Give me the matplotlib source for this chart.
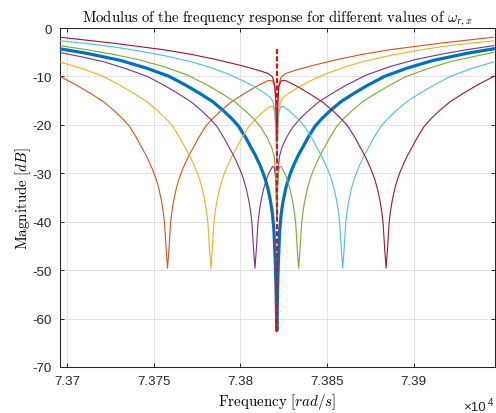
# Frequency response modulus for several values of omega_r,x (MATLAB-style figure)
import matplotlib
matplotlib.use("Agg")
import matplotlib.pyplot as plt

plt.rcParams["font.family"] = ["Liberation Sans", "DejaVu Sans"]
plt.rcParams["mathtext.fontset"] = "cm"
plt.rcParams["axes.unicode_minus"] = False

# nominal case (thick blue), notch at the centre frequency
freq_nom = [73696, 73711, 73731, 73746, 73759, 73769, 73777, 73784, 73790, 73795, 73799, 73803,
            73806, 73808.5, 73811, 73813, 73814.5, 73816, 73817.5, 73818.5, 73819.3, 73820.1, 73820.55,
            73821,
            73821.45, 73821.9, 73822.7, 73823.5, 73824.5, 73826, 73827.5, 73829, 73831, 73833.5, 73836,
            73839, 73843, 73847, 73852, 73858, 73865, 73873, 73883, 73896, 73911, 73931, 73946]
mag_nom = [-4.3, -5.2, -6.7, -8.3, -10.0, -11.9, -13.6, -15.2, -17.0, -18.7, -20.3, -22.6,
           -24.6, -26.2, -28.1, -29.85, -31.4, -33.35, -36.0, -38.5, -41.5, -48.2, -53.9,
           -62.5,
           -53.9, -48.2, -41.5, -38.5, -36.0, -33.35, -31.4, -29.85, -28.1, -26.2, -24.6,
           -22.6, -20.3, -18.7, -17.0, -15.2, -13.6, -11.9, -10.0, -8.3, -6.7, -5.2, -4.3]

# omega_r,x lowest (orange)
freq_1 = [73696, 73706, 73714, 73721, 73727, 73732, 73736, 73740, 73743, 73745.5, 73748, 73750,
          73751.5, 73753, 73754.5, 73755.5, 73756.3, 73757.1, 73758, 73758.9, 73759.7, 73760.5,
          73761.5, 73763, 73764.5, 73766, 73768, 73770.5, 73773, 73776, 73780, 73784, 73789,
          73795, 73802, 73810, 73816, 73818.5, 73819.8, 73820.4, 73821, 73821.6, 73822.2, 73823.5,
          73826, 73831, 73841, 73856, 73871, 73886, 73901, 73916, 73931, 73946]
mag_1 = [-10.0, -11.9, -13.6, -15.2, -17.0, -18.7, -20.3, -22.6, -24.6, -26.2, -28.1, -29.8,
         -31.3, -33.2, -35.7, -37.9, -40.4, -45.2, -49.6, -45.2, -40.4, -37.9,
         -35.7, -33.2, -31.3, -29.8, -28.1, -26.2, -24.6, -22.6, -20.3, -18.7, -17.0,
         -15.2, -13.6, -11.9, -10.85, -10.9, -12.05, -15.2, -22.9, -15.0, -11.7, -10.1,
         -9.4, -8.8, -7.8, -6.5, -5.4, -4.5, -3.8, -3.1, -2.5, -1.9]

# yellow
freq_2 = [73696, 73709, 73721, 73731, 73739, 73746, 73752, 73757, 73761, 73765, 73768, 73770.5,
          73773, 73775, 73776.5, 73778, 73779.5, 73780.5, 73781.3, 73782.1, 73783, 73783.9, 73784.7,
          73785.5, 73786.5, 73788, 73789.5, 73791, 73793, 73795.5, 73798, 73801, 73805, 73809,
          73814, 73817, 73818.5, 73819.8, 73820.4, 73821, 73821.6, 73822.2, 73823.5, 73825,
          73828, 73834, 73841, 73849, 73859, 73871, 73886, 73901, 73916, 73931, 73946]
mag_2 = [-7.0, -8.4, -10.0, -11.9, -13.6, -15.2, -17.0, -18.7, -20.3, -22.6, -24.6, -26.2,
         -28.1, -29.8, -31.3, -33.2, -35.7, -37.9, -40.4, -45.2, -49.6, -45.2, -40.4,
         -37.9, -35.7, -33.2, -31.3, -29.8, -28.1, -26.2, -24.6, -22.6, -20.3, -18.7,
         -17.05, -16.25, -16.2, -17.25, -20.3, -28.0, -20.05, -16.7, -14.95, -14.25,
         -13.45, -12.1, -10.8, -9.5, -8.2, -6.9, -5.7, -4.7, -3.85, -3.2, -2.65]

# purple
freq_3 = [73696, 73709, 73721, 73734, 73746.4, 73756.4, 73764.4, 73771.4, 73777.4, 73782.4,
          73786.4, 73790.4, 73793.4, 73795.9, 73798.4, 73800.4, 73801.9, 73803.4, 73804.9, 73805.9,
          73806.7, 73807.5, 73808.4, 73809.3, 73810.1, 73810.9, 73811.9, 73813.4, 73814.9, 73816.4,
          73818.5, 73819.5, 73820.2, 73820.6, 73821, 73821.4, 73821.8, 73822.5, 73824, 73826.5,
          73830, 73834, 73839, 73845, 73852, 73861, 73873, 73886, 73901, 73916, 73931, 73946]
mag_3 = [-5.05, -6.0, -6.95, -8.4, -10.0, -11.9, -13.6, -15.2, -17.0, -18.7,
         -20.3, -22.6, -24.6, -26.2, -28.1, -29.8, -31.3, -33.2, -35.7, -37.9,
         -40.4, -45.2, -49.6, -45.2, -40.4, -37.9, -35.7, -33.25, -31.4, -30.0,
         -28.6, -28.7, -30.55, -33.45, -39.15, -32.9, -29.4, -26.55, -24.6, -22.65,
         -20.6, -18.85, -17.15, -15.3, -13.7, -11.8, -9.65, -8.0, -6.5, -5.4, -4.45, -3.65]

# green
freq_4 = [73696, 73711, 73726, 73741, 73756, 73769, 73781, 73790, 73797, 73803,
          73808, 73812, 73815.5, 73818, 73819.5, 73820.2, 73820.6, 73821, 73821.4, 73821.8,
          73822.5, 73823.5, 73825.6, 73827.1, 73828.6, 73830.1, 73831.1, 73831.9, 73832.7, 73833.6,
          73834.5, 73835.3, 73836.1, 73837.1, 73838.6, 73840.1, 73841.6, 73843.6, 73846.1, 73848.6,
          73851.6, 73855.6, 73859.6, 73864.6, 73870.6, 73877.6, 73885.6, 73895.6, 73908, 73921,
          73933, 73946]
mag_4 = [-3.65, -4.45, -5.4, -6.5, -8.0, -9.65, -11.8, -13.7, -15.3, -17.15,
         -18.85, -20.6, -22.65, -24.6, -26.55, -29.4, -32.9, -39.15, -33.45, -30.55,
         -28.7, -28.6, -30.0, -31.4, -33.25, -35.7, -37.9, -40.4, -45.2, -49.6,
         -45.2, -40.4, -37.9, -35.7, -33.2, -31.3, -29.8, -28.1, -26.2, -24.6,
         -22.6, -20.3, -18.7, -17.0, -15.2, -13.6, -11.9, -10.0, -8.4, -6.95,
         -6.0, -5.05]

# cyan
freq_5 = [73696, 73711, 73726, 73741, 73756, 73771, 73783, 73793, 73801, 73808,
          73814, 73817, 73818.5, 73819.8, 73820.4, 73821, 73821.6, 73822.2, 73823.5, 73825,
          73828, 73833, 73837, 73841, 73844, 73846.5, 73849, 73851, 73852.5, 73854,
          73855.5, 73856.5, 73857.3, 73858.1, 73859, 73859.9, 73860.7, 73861.5, 73862.5, 73864,
          73865.5, 73867, 73869, 73871.5, 73874, 73877, 73881, 73885, 73890, 73896,
          73903, 73911, 73921, 73933, 73946]
mag_5 = [-2.65, -3.2, -3.85, -4.7, -5.7, -6.9, -8.2, -9.5, -10.8, -12.1,
         -13.45, -14.25, -14.95, -16.7, -20.05, -28.0, -20.3, -17.25, -16.2, -16.25,
         -17.05, -18.7, -20.3, -22.6, -24.6, -26.2, -28.1, -29.8, -31.3, -33.2,
         -35.7, -37.9, -40.4, -45.2, -49.6, -45.2, -40.4, -37.9, -35.7, -33.2,
         -31.3, -29.8, -28.1, -26.2, -24.6, -22.6, -20.3, -18.7, -17.0, -15.2,
         -13.6, -11.9, -10.0, -8.4, -7.0]

# omega_r,x highest (dark red)
freq_6 = [73696, 73711, 73726, 73741, 73756, 73771, 73786, 73801, 73811, 73816,
          73818.5, 73819.8, 73820.4, 73821, 73821.6, 73822.2, 73823.5, 73826,
          73832, 73840, 73847, 73853, 73858, 73862, 73866, 73869, 73871.5, 73874,
          73876, 73877.5, 73879, 73880.5, 73881.5, 73882.3, 73883.1, 73884,
          73884.9, 73885.7, 73886.5, 73887.5, 73889, 73890.5, 73892, 73894,
          73896.5, 73899, 73902, 73906, 73910, 73915, 73921, 73928, 73936, 73946]
mag_6 = [-1.9, -2.5, -3.1, -3.8, -4.5, -5.4, -6.5, -7.8, -8.8, -9.4,
         -10.1, -11.7, -15.0, -22.9, -15.2, -12.05, -10.9, -10.85,
         -11.9, -13.6, -15.2, -17.0, -18.7, -20.3, -22.6, -24.6, -26.2, -28.1,
         -29.8, -31.3, -33.2, -35.7, -37.9, -40.4, -45.2, -49.6,
         -45.2, -40.4, -37.9, -35.7, -33.2, -31.3, -29.8, -28.1,
         -26.2, -24.6, -22.6, -20.3, -18.7, -17.0, -15.2, -13.6, -11.9, -10.0]

# vertical marker at the centre frequency
mark_freq = 73821
mark_top = -4.3
mark_bottom = -62.5

x_ticks = [73700, 73750, 73800, 73850, 73900]
x_tick_labels = ["7.37", "7.375", "7.38", "7.385", "7.39"]
y_ticks = [-70, -60, -50, -40, -30, -20, -10, 0]
y_tick_labels = ["-70", "-60", "-50", "-40", "-30", "-20", "-10", "0"]

colors = ["#D95319", "#EDB120", "#7E2F8E", "#77AC30", "#4DBEEE", "#A2142F"]
others = [(freq_1, mag_1), (freq_2, mag_2), (freq_3, mag_3),
          (freq_4, mag_4), (freq_5, mag_5), (freq_6, mag_6)]

fig = plt.figure(figsize=(4.96, 4.14), dpi=100)
ax = fig.add_axes([60 / 496, 46 / 414, 434.5 / 496, 339 / 414])

ax.plot(freq_nom, mag_nom, color="#0072BD", lw=2.3, zorder=3)
for (f, m), c in zip(others, colors):
    ax.plot(f, m, color=c, lw=0.8, zorder=3)
ax.plot([mark_freq, mark_freq], [mark_top, mark_bottom], color="red", lw=1.5,
        dashes=(2.4, 1.1), zorder=4)

ax.set_xlim(73696, 73946.5)
ax.set_ylim(-70, 0)
ax.set_xticks(x_ticks)
ax.set_xticklabels(x_tick_labels)
ax.set_yticks(y_ticks)
ax.set_yticklabels(y_tick_labels)
ax.grid(True, color="#e3e3e3", lw=0.7)
ax.set_axisbelow(True)
ax.tick_params(direction="in", length=3.2, width=0.7, top=True, right=True,
               labelsize=9.6, colors="#262626", pad=6)
for s in ax.spines.values():
    s.set_color("#262626")
    s.set_linewidth(0.75)

ax.set_title(r"$\mathrm{Modulus\ of\ the\ frequency\ response\ for\ different\ values\ of}\ \omega_{r,x}$",
             fontsize=10.6, pad=5)
ax.set_xlabel(r"$\mathrm{Frequency}\ [rad/s]$", fontsize=10.8, labelpad=3)
ax.set_ylabel(r"$\mathrm{Magnitude}\ [dB]$", fontsize=10.8, labelpad=-0.5)

ax.text(0.927, -0.118, "×10", transform=ax.transAxes, fontsize=9.6, color="#262626",
        ha="left", va="center")
ax.text(0.985, -0.103, "4", transform=ax.transAxes, fontsize=7, color="#262626",
        ha="left", va="center")

fig.savefig("out.png", dpi=100)
